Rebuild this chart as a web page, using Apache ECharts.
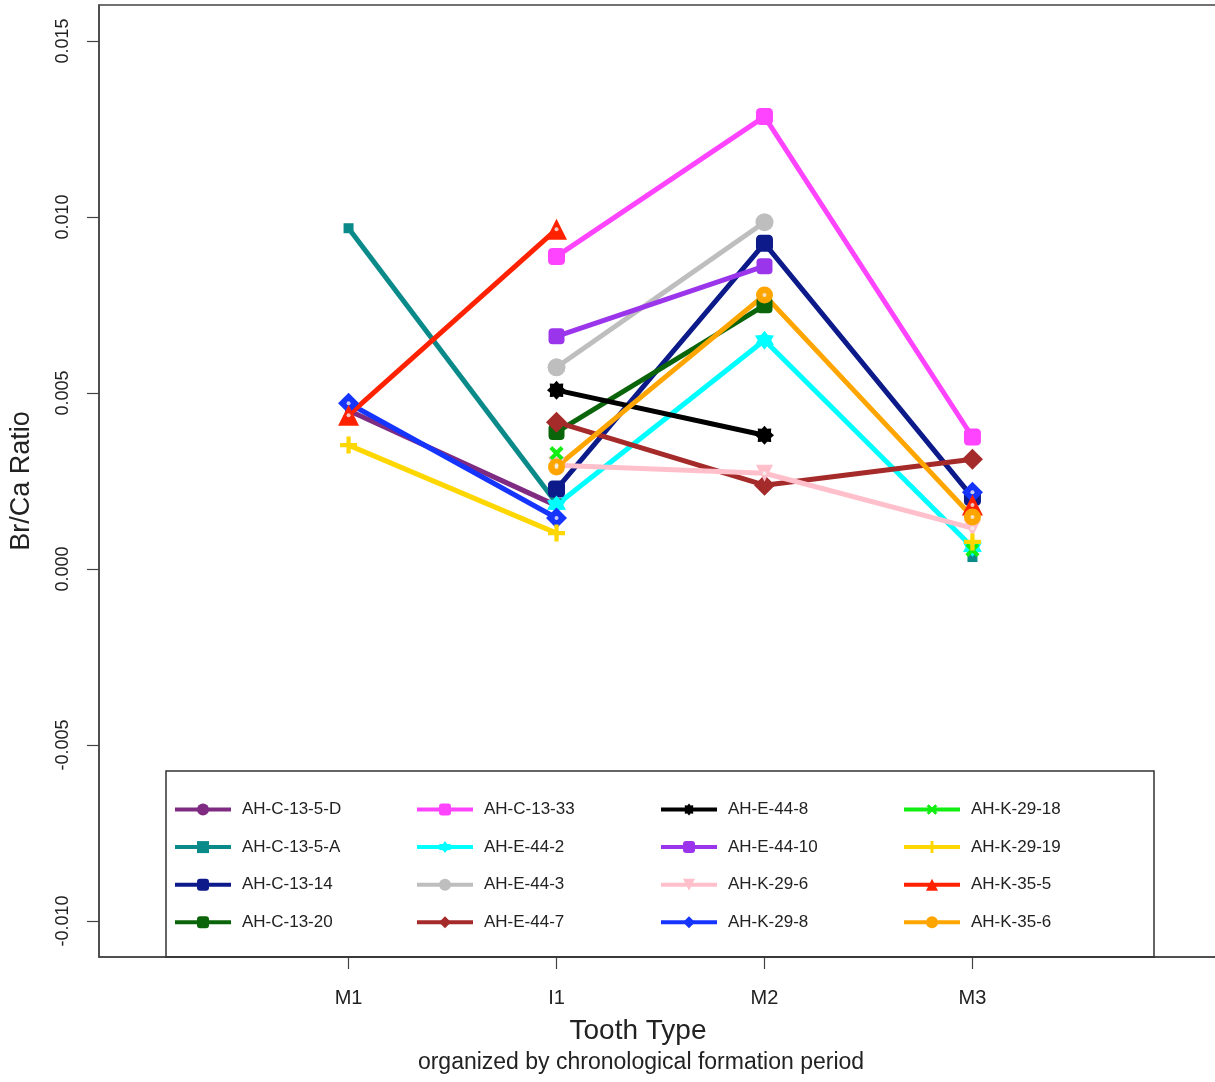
<!DOCTYPE html>
<html>
<head>
<meta charset="utf-8">
<title>Br/Ca Ratio by Tooth Type</title>
<script src="https://cdn.jsdelivr.net/npm/echarts@6/dist/echarts.min.js"></script>
<style>
  html, body { margin: 0; padding: 0; background: #fff; overflow: hidden; }
  #chart { width: 1222px; height: 1082px; }
</style>
</head>
<body>
<div id="chart"></div>
<script>
// Tooth types in order of formation
const toothTypes = ['M1', 'I1', 'M2', 'M3'];
const yTicks = [-0.010, -0.005, 0.000, 0.005, 0.010, 0.015];

// Br/Ca ratio per specimen, ordered M1, I1, M2, M3 (null = not measured)
const ahC13_5D  = [0.00450, 0.00180, null,    null];
const ahC13_5A  = [0.00968, 0.00187, null,    0.00034];
const ahC13_14  = [null,    0.00227, 0.00925, 0.00204];
const ahC13_20  = [null,    0.00389, 0.00749, null];
const ahC13_33  = [null,    0.00888, 0.01285, 0.00375];
const ahE44_2   = [null,    0.00182, 0.00650, 0.00062];
const ahE44_3   = [null,    0.00573, 0.00985, null];
const ahE44_7   = [null,    0.00417, 0.00238, 0.00312];
const ahE44_8   = [null,    0.00508, 0.00380, null];
const ahE44_10  = [null,    0.00661, 0.00860, null];
const ahK29_6   = [null,    0.00295, 0.00272, 0.00116];
const ahK29_8   = [0.00471, 0.00145, null,    0.00218];
const ahK29_18  = [null,    0.00329, null,    0.00054];
const ahK29_19  = [0.00352, 0.00102, null,    0.00077];
const ahK35_5   = [0.00437, 0.00965, null,    0.00182];
const ahK35_6   = [null,    0.00290, 0.00778, 0.00148];

// Marker shapes
function starPath(points, outer, inner) {
  let d = '';
  for (let i = 0; i < points * 2; i++) {
    const r = i % 2 === 0 ? outer : inner;
    const a = Math.PI * i / points - Math.PI / 2;
    d += (i === 0 ? 'M' : 'L') + (10 + r * Math.cos(a)).toFixed(2) + ',' + (10 + r * Math.sin(a)).toFixed(2);
  }
  return 'path://' + d + 'Z';
}
const plusPath = 'path://M7.5,0H12.5V7.5H20V12.5H12.5V20H7.5V12.5H0V7.5H7.5Z';
const hexStar = starPath(6, 10, 6.2);
const gearStar = starPath(8, 10, 7.4);

const specimens = [
  { name: 'AH-C-13-5-D', values: ahC13_5D, color: '#7f2b82', symbol: 'circle',    size: 7 },
  { name: 'AH-C-13-5-A', values: ahC13_5A, color: '#0b8a8a', symbol: 'rect',      size: 10 },
  { name: 'AH-C-13-14',  values: ahC13_14, color: '#0c1a8a', symbol: 'roundRect', size: 17 },
  { name: 'AH-C-13-20',  values: ahC13_20, color: '#0a640a', symbol: 'roundRect', size: 16 },
  { name: 'AH-C-13-33',  values: ahC13_33, color: '#ff44ff', symbol: 'roundRect', size: 17 },
  { name: 'AH-E-44-2',   values: ahE44_2,  color: '#00ffff', symbol: hexStar,     size: 19 },
  { name: 'AH-E-44-3',   values: ahE44_3,  color: '#bebebe', symbol: 'circle',    size: 18 },
  { name: 'AH-E-44-7',   values: ahE44_7,  color: '#a52a2a', symbol: 'diamond',   size: 21 },
  { name: 'AH-E-44-8',   values: ahE44_8,  color: '#000000', symbol: gearStar,    size: 19 },
  { name: 'AH-E-44-10',  values: ahE44_10, color: '#9b35ec', symbol: 'roundRect', size: 16 },
  { name: 'AH-K-29-6',   values: ahK29_6,  color: '#ffc0cb', symbol: 'triangle',  size: 17, rotate: 180, dot: true },
  { name: 'AH-K-29-8',   values: ahK29_8,  color: '#1535ff', symbol: 'diamond',   size: 21, dot: true },
  { name: 'AH-K-29-18',  values: ahK29_18, color: '#11ee11', symbol: plusPath,    size: 16, rotate: 45 },
  { name: 'AH-K-29-19',  values: ahK29_19, color: '#ffd700', symbol: plusPath,    size: 17 },
  { name: 'AH-K-35-5',   values: ahK35_5,  color: '#ff2200', symbol: 'triangle',  size: 21, dot: true },
  { name: 'AH-K-35-6',   values: ahK35_6,  color: '#ffa500', symbol: 'circle',    size: 17, dot: true }
];

const toPoints = values => values.map((v, i) => [i + 1, v === null ? '-' : v]);

const series = [];
specimens.forEach((s, k) => {
  series.push({
    name: s.name,
    type: 'line',
    z: 2,
    zlevel: 0,
    data: toPoints(s.values),
    connectNulls: false,
    showSymbol: true,
    symbol: s.symbol,
    symbolSize: s.size,
    symbolRotate: s.rotate || 0,
    lineStyle: { color: s.color, width: 5 },
    itemStyle: { color: s.color, borderWidth: 0 },
    emphasis: { disabled: true },
    animation: false
  });
  // open-centre markers: a small light dot in the middle of the symbol
  if (s.dot) {
    series.push({
      name: s.name + ' centre',
      type: 'scatter',
      z: 5,
      data: toPoints(s.values),
      symbol: 'circle',
      symbolSize: 4,
      itemStyle: { color: '#f2f2f2' },
      silent: true,
      emphasis: { disabled: true },
      animation: false
    });
  }
});

const legendFont = { fontFamily: '"Liberation Sans", Arial, sans-serif', fontSize: 17, color: '#222', padding: [0, 0, 0, 6] };
const legendCols = [173, 415, 659, 902];
const legends = legendCols.map((x, c) => ({
  orient: 'vertical',
  left: x,
  top: 801,
  padding: 0,
  itemWidth: 56,
  itemHeight: 15,
  itemGap: 20.6,
  selectedMode: false,
  lineStyle: { width: 4 },
  textStyle: legendFont,
  data: specimens.slice(c * 4, c * 4 + 4).map(s => s.name)
}));

const chart = echarts.init(document.getElementById('chart'), null, { renderer: 'canvas' });
chart.setOption({
  backgroundColor: '#ffffff',
  animation: false,
  grid: { left: 99, right: 0, top: 5, bottom: 125, show: true, borderColor: '#444', borderWidth: 1.5, backgroundColor: 'transparent' },
  xAxis: {
    type: 'value',
    min: -0.2,
    max: 5.2,
    splitLine: { show: false },
    axisLine: { show: true, onZero: false, lineStyle: { color: '#444', width: 1.5 } },
    axisTick: { show: true, length: 12, customValues: [1, 2, 3, 4], lineStyle: { color: '#444', width: 1.2 } },
    axisLabel: {
      customValues: [1, 2, 3, 4],
      formatter: v => toothTypes[Math.round(v) - 1] || '',
      margin: 31,
      fontFamily: '"Liberation Sans", Arial, sans-serif',
      fontSize: 20,
      color: '#222'
    }
  },
  yAxis: {
    type: 'value',
    min: -0.01102,
    max: 0.01602,
    splitLine: { show: false },
    axisLine: { show: true, onZero: false, lineStyle: { color: '#444', width: 1.5 } },
    axisTick: { show: true, length: 12, customValues: yTicks, lineStyle: { color: '#444', width: 1.2 } },
    axisLabel: {
      customValues: yTicks,
      formatter: v => v.toFixed(3),
      rotate: 90,
      margin: 27,
      fontFamily: '"Liberation Sans", Arial, sans-serif',
      fontSize: 18,
      color: '#222'
    },
    name: 'Br/Ca Ratio',
    nameLocation: 'middle',
    nameRotate: 90,
    nameGap: 64,
    nameTextStyle: { fontFamily: '"Liberation Sans", Arial, sans-serif', fontSize: 27, color: '#222' }
  },
  legend: legends,
  graphic: [
    { type: 'rect', shape: { x: 166, y: 771, width: 988, height: 186 }, style: { fill: 'transparent', stroke: '#333', lineWidth: 1.5 }, z: 1 },
    { type: 'text', x: 638, y: 1031, style: { text: 'Tooth Type', font: '28px "Liberation Sans", Arial, sans-serif', fill: '#222', align: 'center', verticalAlign: 'middle' } },
    { type: 'text', x: 641, y: 1063, style: { text: 'organized by chronological formation period', font: '23px "Liberation Sans", Arial, sans-serif', fill: '#222', align: 'center', verticalAlign: 'middle' } }
  ],
  series: series
});
</script>
</body>
</html>
